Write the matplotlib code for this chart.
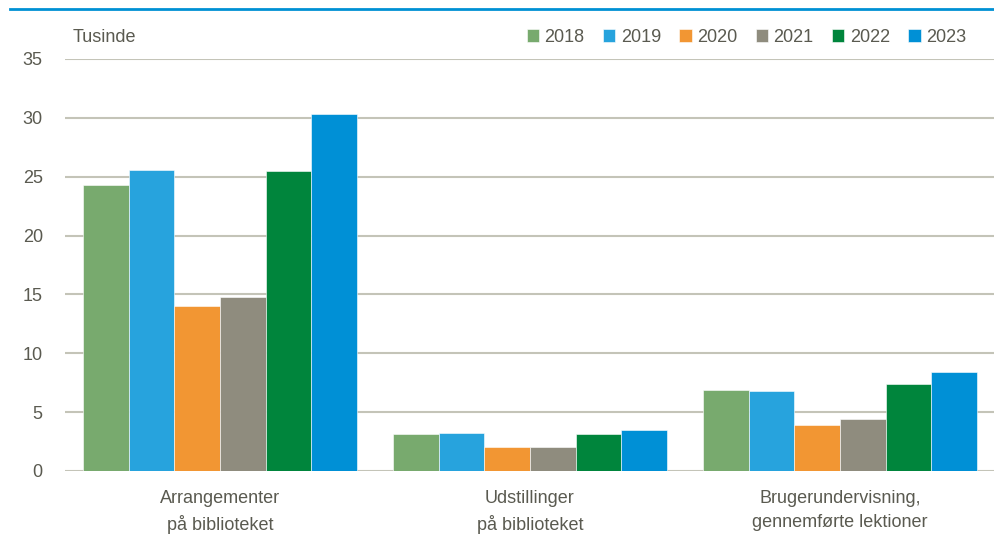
import numpy as np
import matplotlib
matplotlib.use('Agg')
import matplotlib.pyplot as plt
from matplotlib.lines import Line2D

plt.rcParams['font.family'] = ['Liberation Sans', 'DejaVu Sans']

categories = ['Arrangementer\npå biblioteket', 'Udstillinger\npå biblioteket',
              'Brugerundervisning,\ngennemførte lektioner']
years = ['2018', '2019', '2020', '2021', '2022', '2023']
v2018 = [24.3, 3.1, 6.9]
v2019 = [25.6, 3.2, 6.8]
v2020 = [14.0, 2.0, 3.9]
v2021 = [14.8, 2.0, 4.4]
v2022 = [25.5, 3.1, 7.4]
v2023 = [30.3, 3.5, 8.4]
yticks = [0, 5, 10, 15, 20, 25, 30, 35]

series = [v2018, v2019, v2020, v2021, v2022, v2023]
colors = ['#78aa6e', '#27a3dd', '#f29633', '#8f8c7e', '#00853c', '#0090d6']
text_color = '#5a5a50'
grid_color = '#c4c4b8'
fs = 13

fig = plt.figure(figsize=(9.95, 5.46), dpi=100)
ax = fig.add_axes([0.0653, 0.1374, 0.9347, 0.7546])

x = np.arange(len(categories))
bw = 0.883 / len(series)
for i, (vals, c, yr) in enumerate(zip(series, colors, years)):
    ax.bar(x - 0.883 / 2 + bw * (i + 0.5), vals, bw, color=c, label=yr,
           edgecolor='white', linewidth=0.4, zorder=3)

ax.set_xlim(-0.5, 2.5)
ax.set_ylim(0, 35)
ax.set_yticks(yticks)
ax.set_xticks(x)
ax.set_xticklabels(categories, fontsize=fs, color=text_color, linespacing=1.5)
ax.tick_params(axis='y', length=0, labelsize=fs, labelcolor=text_color, pad=16)
ax.tick_params(axis='x', length=0, pad=14)
ax.grid(axis='y', color=grid_color, linewidth=1.5, zorder=0)
for s in ax.spines.values():
    s.set_visible(False)

fig.text(73 / 995, 1 - 37 / 546, 'Tusinde', fontsize=fs, color=text_color, va='center')

leg = ax.legend(loc='center right', bbox_to_anchor=(0.969, 1.053), ncol=6, frameon=False,
                fontsize=fs, handlelength=0.7, handleheight=0.7, handletextpad=0.3,
                columnspacing=1.0, borderaxespad=0, borderpad=0)
for t in leg.get_texts():
    t.set_color(text_color)

fig.add_artist(Line2D([10 / 995, 1.0], [1 - 9 / 546, 1 - 9 / 546], color='#0090d4',
                      linewidth=2, transform=fig.transFigure))

fig.savefig('out.png', dpi=100)
